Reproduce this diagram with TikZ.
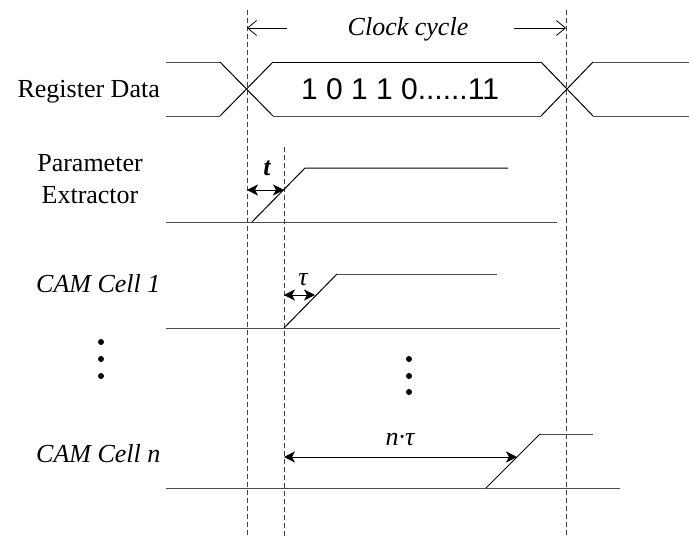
\documentclass[tikz,border=0pt]{standalone}
\usepackage{fontspec}
\setmainfont{Liberation Serif}
\newfontfamily\datafont{Liberation Sans}
\usetikzlibrary{arrows.meta}
\tikzset{
  sig/.style={line width=1pt, color=black!70},
  ramp/.style={line width=1pt, color=black},
  guide/.style={line width=0.9pt, color=black!75, dash pattern=on 5pt off 3pt},
  dimarrow/.style={line width=1pt, {Stealth[length=11pt,width=11pt,inset=3pt]}-{Stealth[length=11pt,width=11pt,inset=3pt]}},
  cyclearrow/.style={line width=0.8pt, -{Straight Barb[length=9pt,width=15pt]}},
  lbl/.style={font=\fontsize{26}{31.6}\selectfont, inner sep=0pt}
}

\begin{document}
\begin{tikzpicture}[x=1pt,y=-1pt]
			%%%%% START %%%%%
			\useasboundingbox (0,0) rectangle (689,541);
			
			% guide lines
			\draw[guide] (247,10) -- (247,537);
			\draw[guide] (284,147) -- (284,537);
			\draw[guide] (566,10) -- (566,537);
			
			% clock cycle
			\node[lbl, anchor=base] (cycLbl) at (408,35) {\itshape Clock cycle};
			\coordinate (cycL) at (247,28);
			\coordinate (cycLs) at (287,28);
			\coordinate (cycR) at (566,28);
			\coordinate (cycRs) at (514,28);
			\draw[cyclearrow] (cycLs) -- (cycL);
			\draw[cyclearrow] (cycRs) -- (cycR);
			
			% register data
			\node[lbl, anchor=base east] (regLbl) at (160,97) {Register Data};
			\draw[sig] (166,62) -- (220,62);
			\draw[sig] (166,116) -- (220,116);
			\draw[ramp] (220,62) -- (273,116);
			\draw[ramp] (220,116) -- (273,62);
			\draw[ramp] (273,62) -- (541,62);
			\draw[sig] (273,116) -- (541,116);
			\draw[ramp] (541,62) -- (593,116);
			\draw[ramp] (541,116) -- (593,62);
			\draw[sig] (593,62) -- (689,62);
			\draw[sig] (593,116) -- (689,116);
			\node[anchor=base, inner sep=0pt, font=\datafont\fontsize{30}{36}\selectfont] (dataLbl) at (400,99.7) {1 0 1 1 0......11};
			
			% parameter extractor
			\node[lbl, anchor=base, align=center] (peLbl) at (90,203.3) {Parameter\\Extractor};
			\draw[sig] (166,222) -- (557,222);
			\draw[ramp] (252,222) -- (305,168) -- (508,168);
			\node[lbl, anchor=base] (tLbl) at (267,175) {\bfseries\itshape t};
			\coordinate (tL) at (247,190);
			\coordinate (tR) at (284,190);
			\draw[dimarrow] (tL) -- (tR);
			
			% cam cell 1
			\node[lbl, anchor=base west] (camOneLbl) at (36,292) {\itshape CAM Cell 1};
			\draw[sig] (166,328) -- (560,328);
			\draw[ramp] (284,328) -- (337,274);
			\draw[sig] (337,274) -- (497,274);
			\node[lbl, anchor=base] (tauLbl) at (303,285) {\itshape τ};
			\coordinate (tauL) at (284,295);
			\coordinate (tauR) at (315,295);
			\draw[dimarrow] (tauL) -- (tauR);
			
			% dots
			\fill (101,342) circle (3pt);
			\fill (101,359) circle (3pt);
			\fill (101,376) circle (3pt);
			\fill (409,359) circle (3pt);
			\fill (409,376) circle (3pt);
			\fill (409,392) circle (3pt);
			
			% cam cell n
			\node[lbl, anchor=base west] (camNLbl) at (36,462) {\itshape CAM Cell n};
			\draw[sig] (166,488) -- (620,488);
			\draw[ramp] (486,488) -- (540,434);
			\draw[sig] (540,434) -- (593,434);
			\node[lbl, anchor=base] (ntauLbl) at (400,445) {\itshape n·τ};
			\coordinate (ntauL) at (284,457);
			\coordinate (ntauR) at (517,457);
			\draw[dimarrow] (ntauL) -- (ntauR);
			
			%%%%% END %%%%%
\end{tikzpicture}
\end{document}
